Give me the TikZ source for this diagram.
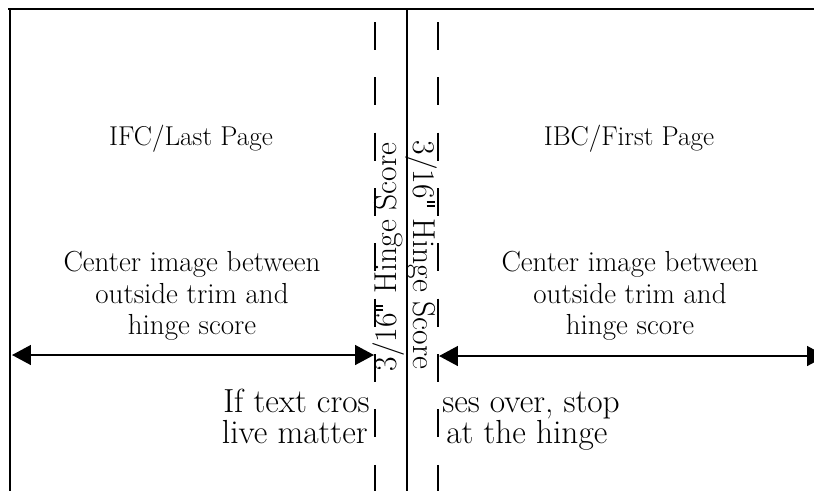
\documentclass[tikz,border=0pt]{standalone}
\usetikzlibrary{arrows.meta, positioning}

% a straight inch mark, not a closing quote
\newcommand{\inchmark}{\kern0.06em\rule[0.43em]{0.055em}{0.26em}\kern0.09em\rule[0.43em]{0.055em}{0.26em}\kern0.06em}

\begin{document}
\begin{tikzpicture}[x=0.02cm, y=-0.02cm,
    page/.style={font=\fontsize{15.5}{18.1}\selectfont},
    label/.style={font=\fontsize{16.5}{18.1}\selectfont, align=center},
    note/.style={font=\fontsize{19}{16}\selectfont, inner sep=0pt},
    score/.style={font=\fontsize{18}{18}\selectfont},
    trim/.style={line width=1.1pt},
    hinge/.style={line width=1.1pt, dash pattern=on 15.9pt off 15.6pt},
    span/.style={line width=1.1pt,
        {Triangle[length=10.8pt,width=11.3pt]}-{Triangle[length=10.8pt,width=11.3pt]}}]

    \useasboundingbox (0,0) rectangle (814,491);
    \clip (0,0) rectangle (814,491);

    % trim edges and the fold
    \coordinate (tl) at (8,9);
    \coordinate (tr) at (814,9);
    \coordinate (lt) at (10,9);
    \coordinate (lb) at (10,491);
    \coordinate (ft) at (407,9);
    \coordinate (fb) at (407,491);
    \draw[trim] (tl) -- (tr);
    \draw[trim] (lt) -- (lb);
    \draw[trim] (ft) -- (fb);

    % hinge scores
    \coordinate (hlt) at (375,22);
    \coordinate (hlb) at (375,491);
    \coordinate (hrt) at (438,22);
    \coordinate (hrb) at (438,491);
    \draw[hinge] (hlt) -- (hlb);
    \draw[hinge] (hrt) -- (hrb);

    \node[score, rotate=90] (lscore) at (389,257) {3/16\inchmark{} Hinge Score};
    \node[score, rotate=-90] (rscore) at (421,255) {3/16\inchmark{} Hinge Score};

    % page labels
    \node[page, anchor=base] (ifc) at (191,145) {IFC/Last Page};
    \node[page, anchor=base] (ibc) at (629,145) {IBC/First Page};
    \node[label] (lcenter) at (192,296) {Center image between\\outside trim and\\hinge score};
    \node[label] (rcenter) at (630,296) {Center image between\\outside trim and\\hinge score};

    % image widths
    \coordinate (la) at (12,355);
    \coordinate (lz) at (374,355);
    \coordinate (ra) at (439,356);
    \coordinate (rz) at (826,356);
    \draw[span] (la) -- (lz);
    \draw[span] (ra) -- (rz);

    % live matter across the hinge
    \node[note, anchor=base east] (lnote1) at (370,412) {If text cros};
    \node[note, anchor=base east] (lnote2) at (368,443) {live matter};
    \node[note, anchor=base west] (rnote1) at (442,412) {ses over, stop};
    \node[note, anchor=base west] (rnote2) at (446,443) {at the hinge};
\end{tikzpicture}
\end{document}
